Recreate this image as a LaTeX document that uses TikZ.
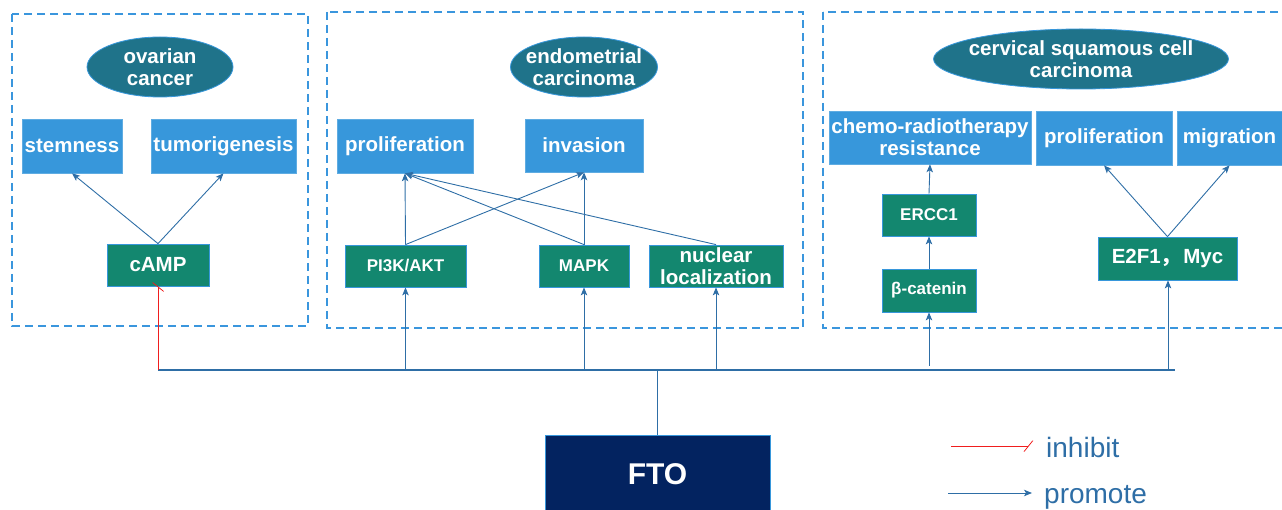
\documentclass[tikz,border=0pt]{standalone}
\usepackage{fontspec}
\setmainfont{Liberation Sans}
\newfontfamily\cjk{Noto Sans CJK SC}
\usetikzlibrary{arrows.meta,shapes.geometric}
\definecolor{dashblue}{RGB}{58,150,221}
\definecolor{boxblue}{RGB}{55,151,219}
\definecolor{boxgreen}{RGB}{19,135,111}
\definecolor{elteal}{RGB}{31,115,138}
\definecolor{navy}{RGB}{3,35,96}
\definecolor{linkblue}{RGB}{46,110,166}
\definecolor{inhred}{RGB}{240,30,30}
\begin{document}
\begin{tikzpicture}[x=1pt,y=-1pt,
  region/.style={draw=dashblue, line width=1.3pt, dash pattern=on 8pt off 5pt},
  disease/.style={ellipse, fill=elteal, draw=boxblue, line width=0.8pt, inner sep=0pt},
  diseasetext/.style={text=white, font=\bfseries\fontsize{20.5}{22.5}\selectfont, align=center, inner sep=0pt},
  outcome/.style={rectangle, fill=boxblue, draw=boxblue!80!white, line width=0.6pt, text=white,
     font=\bfseries\fontsize{20.5}{22}\selectfont, align=center, inner sep=0pt},
  mediator/.style={rectangle, fill=boxgreen, draw=boxblue, line width=0.8pt, text=white,
     font=\bfseries\fontsize{20.5}{22}\selectfont, align=center, inner sep=0pt},
  smalltext/.style={font=\bfseries\fontsize{17}{20}\selectfont},
  promote/.style={draw=linkblue, line width=0.9pt, -{Stealth[length=8pt,width=6.5pt,inset=2pt]}},
  inhibit/.style={draw=inhred, line width=0.9pt, -{Bar[width=11pt,slant=0.8,line width=1pt]}},
  legendtext/.style={text=linkblue, font=\fontsize{28}{30}\selectfont, inner sep=0pt},
]
\useasboundingbox (0,0) rectangle (1282,510);
\clip (0,0) rectangle (1282,510);

% regions
\draw[region] (12,14) rectangle (308,326);
\draw[region] (327,12) rectangle (803,328);
\draw[region] (823,12) rectangle (1300,328);

% diseases
\node[disease, minimum width=146, minimum height=60] (ov) at (160,67) {};
\node[diseasetext] (ovt) at (ov) {ovarian\\cancer};
\node[disease, minimum width=147, minimum height=60] (en) at (584,67) {};
\node[diseasetext] (ent) at (en) {endometrial\\carcinoma};
\node[disease, minimum width=295, minimum height=60] (cv) at (1081,59) {};
\node[diseasetext] (cvt) at (cv) {cervical squamous cell\\carcinoma};

% outcomes
\node[outcome, minimum width=100, minimum height=54] (stem) at (72,146) {stemness};
\node[outcome, minimum width=145, minimum height=54] (tumor) at (223.5,146) {tumorigenesis};
\node[outcome, minimum width=136, minimum height=54] (prolE) at (405,146) {proliferation};
\node[outcome, minimum width=118, minimum height=53] (inv) at (584,145.5) {invasion};
\node[outcome, minimum width=202, minimum height=53] (chemo) at (930,137.5) {chemo-radiotherapy\\resistance};
\node[outcome, minimum width=136, minimum height=54] (prolC) at (1104,138) {proliferation};
\node[outcome, minimum width=105, minimum height=54] (mig) at (1229.5,138) {migration};

% mediators
\node[mediator, minimum width=102, minimum height=42] (camp) at (158,265) {cAMP};
\node[mediator, smalltext, minimum width=121, minimum height=42] (pi3k) at (405.5,266) {PI3K/AKT};
\node[mediator, smalltext, minimum width=90, minimum height=42] (mapk) at (584,266) {MAPK};
\node[mediator, minimum width=134, minimum height=42] (nucl) at (716,266) {nuclear\\localization};
\node[mediator, smalltext, minimum width=94, minimum height=42] (ercc) at (929,215) {ERCC1};
\node[mediator, smalltext, minimum width=94, minimum height=43] (bcat) at (929,290.5) {β-catenin};
\node[mediator, minimum width=139, minimum height=43] (e2f) at (1167.5,258.5) {E2F1{\cjk ，}\hspace{2pt}Myc};

% FTO
\node[rectangle, fill=navy, draw=boxblue, line width=0.8pt, text=white,
      font=\bfseries\fontsize{30}{32}\selectfont, minimum width=225, minimum height=78] (fto) at (657.5,474) {FTO};

% bus
\coordinate (busL) at (158,370);
\coordinate (busR) at (1175,370);
\coordinate (hub) at (657.5,370);
\coordinate (b1) at (405.5,370);
\coordinate (b2) at (584,370);
\coordinate (b3) at (716,370);
\coordinate (b4) at (929,366);
\coordinate (b5) at (1168,370);
\draw[linkblue, line width=1.2pt] (busL) -- (busR);
\draw[linkblue, line width=1pt] (fto.north) -- (hub);
\draw[inhibit] (busL) -- (camp.south);
\draw[promote] (b1) -- (pi3k.south);
\draw[promote] (b2) -- (mapk.south);
\draw[promote] (b3) -- (nucl.south);
\draw[promote] (b4) -- (bcat.south);
\draw[promote] (b5) -- (b5 |- e2f.south);

% internal links
\draw[promote] (camp.north) -- (stem.south);
\draw[promote] (camp.north) -- (tumor.south);
\draw[promote] (pi3k.north) -- (prolE.south);
\draw[promote] (pi3k.north) -- (inv.south);
\draw[promote] (mapk.north) -- (inv.south);
\draw[promote] (mapk.north) -- (prolE.south);
\draw[promote] (nucl.north) -- (prolE.south);
\draw[promote] (bcat.north) -- (ercc.south);
\draw[promote] (ercc.north) -- (chemo.south);
\draw[promote] (e2f.north) -- (prolC.south);
\draw[promote] (e2f.north) -- (mig.south);

% legend
\coordinate (inhA) at (951,446);
\coordinate (inhB) at (1029,446);
\coordinate (proA) at (948,493);
\coordinate (proB) at (1032,493);
\draw[inhibit] (inhA) -- (inhB);
\draw[promote] (proA) -- (proB);
\node[legendtext, anchor=base west] (inhl) at (1046,457) {inhibit};
\node[legendtext, anchor=base west] (prol) at (1044,503) {promote};
\end{tikzpicture}
\end{document}
